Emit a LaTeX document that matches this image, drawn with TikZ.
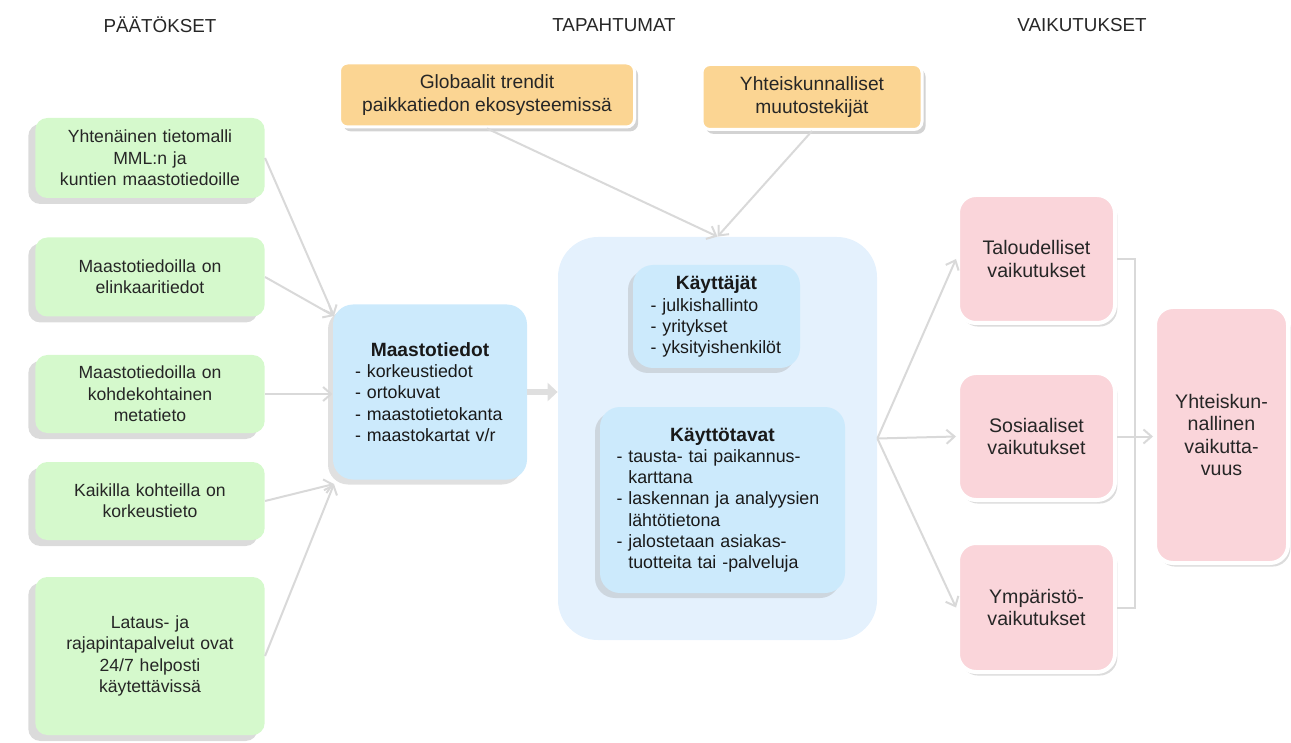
\documentclass[tikz,border=0pt]{standalone}
\usepackage{fontspec}
\setmainfont{Liberation Sans}
\usetikzlibrary{arrows.meta,positioning,shadows}
\definecolor{paatosgreen}{HTML}{D5F9CC}
\definecolor{tietoblue}{HTML}{CCEAFC}
\definecolor{taustablue}{HTML}{E4F1FD}
\definecolor{trendorange}{HTML}{FBD593}
\definecolor{vaikpink}{HTML}{FAD5DA}

\begin{document}
\begin{tikzpicture}[x=0.5pt,y=-0.5pt,>={Straight Barb[length=4pt,width=7pt]},
    otsikko/.style={font=\fontsize{9.4}{11}\selectfont, text=black!85},
    paatos/.style={rectangle, rounded corners=6pt, fill=paatosgreen, minimum width=113pt, text width=108pt, align=center, text=black!85, font=\fontsize{8.8}{10.7}\selectfont, drop shadow={shadow xshift=-3.5pt, shadow yshift=-3pt, fill=black!40, opacity=0.35}},
    tieto/.style={rectangle, rounded corners=10pt, fill=tietoblue, align=left, text=black!90, font=\fontsize{8.9}{10.6}\selectfont, drop shadow={shadow xshift=-2.5pt, shadow yshift=-2.5pt, fill=black!40, opacity=0.3}},
    trendi/.style={rectangle, rounded corners=4pt, fill=trendorange, draw=white, line width=1.5pt, align=center, text=black!85, font=\fontsize{9.6}{11.8}\selectfont, drop shadow={shadow xshift=1.8pt, shadow yshift=-2.2pt, fill=black!50, opacity=0.35}},
    vaikutus/.style={rectangle, rounded corners=9pt, fill=vaikpink, draw=white, line width=2pt, minimum width=78.5pt, align=center, text=black!85, font=\fontsize{9.8}{11.3}\selectfont, drop shadow={shadow xshift=1.2pt, shadow yshift=-1.8pt, fill=black!45, opacity=0.3}},
    nuoli/.style={->, draw=gray!30, line width=1pt}]
  \useasboundingbox (0,0) rectangle (1291,743);

  % otsikot
  \node[otsikko] (hpaat) at (160,25) {PÄÄTÖKSET};
  \node[otsikko] (htap) at (614,25) {TAPAHTUMAT};
  \node[otsikko] (hvaik) at (1082,25) {VAIKUTUKSET};

  % paatokset
  \node (g1) [paatos, minimum height=40pt] at (150,158) {Yhtenäinen tietomalli\\MML:n ja\\kuntien maastotiedoille};
  \node (g2) [paatos, minimum height=39.5pt] at (150,277) {Maastotiedoilla on\\elinkaaritiedot};
  \node (g3) [paatos, minimum height=39pt] at (150,394) {Maastotiedoilla on\\kohdekohtainen\\metatieto};
  \node (g4) [paatos, minimum height=39pt] at (150,501) {Kaikilla kohteilla on\\korkeustieto};
  \node (g5) [paatos, minimum height=79pt] at (150,656) {Lataus- ja\\rajapintapalvelut ovat\\24/7 helposti\\käytettävissä};

  % maastotiedot
  \node (maasto) [tieto, minimum width=97pt, minimum height=87.5pt, text width=75pt] at (430,392)
    {\hfil{\fontsize{9.6}{11}\selectfont\bfseries Maastotiedot}\hfil\\- korkeustiedot\\- ortokuvat\\- maastotietokanta\\- maastokartat v/r};

  % tapahtumat
  \node (o1) [trendi, minimum width=147.5pt, minimum height=32pt] at (487,95) {Globaalit trendit\\paikkatiedon ekosysteemissä};
  \node (o2) [trendi, minimum width=110pt, minimum height=32.5pt] at (812,97) {Yhteiskunnalliset\\muutostekijät};

  \node (cont) [rectangle, rounded corners=20pt, fill=taustablue, minimum width=159.5pt, minimum height=201.5pt] at (717.5,438.5) {};
  \node (kayttajat) [tieto, minimum width=83.5pt, minimum height=51.5pt, text width=66pt] at (716.5,316.5)
    {\hfil{\fontsize{9.6}{11}\selectfont\bfseries Käyttäjät}\hfil\\- julkishallinto\\- yritykset\\- yksityishenkilöt};
  \node (tavat) [tieto, minimum width=122.5pt, minimum height=93pt, text width=106pt] at (722.5,500)
    {\hfil{\fontsize{9.6}{11}\selectfont\bfseries Käyttötavat}\hfil\\- tausta- tai paikannus-\\\phantom{- }karttana\\- laskennan ja analyysien\\\phantom{- }lähtötietona\\- jalostetaan asiakas-\\\phantom{- }tuotteita tai -palveluja};

  % vaikutukset
  \node (t1) [vaikutus, minimum height=64pt] at (1036.5,259) {Taloudelliset\\vaikutukset};
  \node (t2) [vaikutus, minimum height=63.5pt] at (1036.5,436.5) {Sosiaaliset\\vaikutukset};
  \node (t3) [vaikutus, minimum height=64.5pt] at (1036.5,607.5) {Ympäristö-\\vaikutukset};
  \node (big) [vaikutus, minimum width=66.5pt, minimum height=128pt] at (1221.5,435) {Yhteiskun-\\nallinen\\vaikutta-\\vuus};

  % nuolet
  \coordinate (mtop) at (334,316);
  \coordinate (mbot) at (334,484);
  \coordinate (join) at (1135,436.5);

  \draw[nuoli] (g1.east) -- (mtop);
  \draw[nuoli] (g2.east) -- (mtop);
  \draw[nuoli] (g3.east) -- (g3.east -| maasto.west);
  \draw[nuoli] (g4.east) -- (mbot);
  \draw[nuoli] (g5.east) -- (mbot);
  \draw[-{Triangle[length=5pt,width=9pt]}, draw=gray!25, fill=gray!25, line width=3pt] (maasto.east) -- (maasto.east -| cont.west);

  \draw[nuoli] (o1.south) -- (cont.north);
  \draw[nuoli] (o2.south) -- (cont.north);

  \draw[nuoli] (cont.east) -- (t1.west);
  \draw[nuoli] (cont.east) -- (t2.west);
  \draw[nuoli] (cont.east) -- (t3.west);

  \draw[draw=gray!30, line width=1pt] (t1.east) -| (join) |- (t3.east);
  \draw[nuoli] (t2.east) -- (t2.east -| big.west);
\end{tikzpicture}
\end{document}
